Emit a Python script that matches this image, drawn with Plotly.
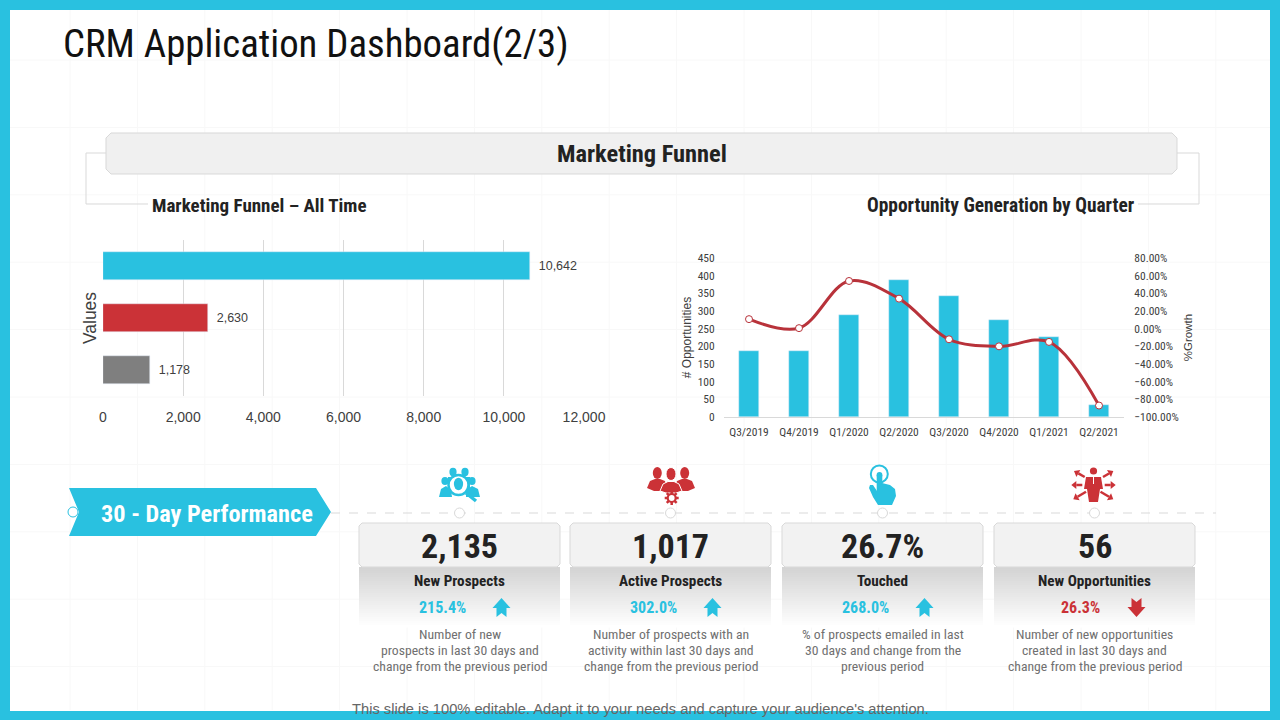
import math
import plotly.graph_objects as go

# left chart
funnel_stages = ["Stage 1", "Stage 2", "Stage 3"]
funnel_values = [10642, 2630, 1178]
funnel_colors = ["#29C1E0", "#CB3237", "#7F7F7F"]

# right chart
quarters = ["Q3/2019", "Q4/2019", "Q1/2020", "Q2/2020", "Q3/2020", "Q4/2020", "Q1/2021", "Q2/2021"]
opportunities = [187, 187, 289, 388, 343, 275, 227, 34]
growth = [10.8, 0.6, 54, 34, -12, -20, -15, -87]

# cards
card_values = ["2,135", "1,017", "26.7%", "56"]
card_names = ["New Prospects", "Active Prospects", "Touched", "New Opportunities"]
card_changes = ["215.4%", "302.0%", "268.0%", "26.3%"]
card_up = [True, True, True, False]
card_desc = [
    ["Number of new", "prospects in last 30 days and", "change from the previous period"],
    ["Number of prospects with an", "activity within last 30 days and", "change from the previous period"],
    ["% of prospects emailed in last", "30 days and change from the", "previous period"],
    ["Number of new opportunities", "created in last 30 days and", "change from the previous period"],
]
card_left = [359, 570, 782, 994]

BLUE = "#29C1E0"
RED = "#CB3237"
NARROW = "Roboto Condensed"
SANS = "Liberation Sans"
W, H = 1280, 720


def fx(x):
    return x / W


def fy(y):
    return 1 - y / H


shapes = []
notes = []


def rect(x0, y0, x1, y1, fill, line=None, width=1, layer="below"):
    shapes.append(dict(type="rect", xref="paper", yref="paper", x0=fx(x0), x1=fx(x1), y0=fy(y0), y1=fy(y1),
                       fillcolor=fill, line=dict(color=line or fill, width=width if line else 0), layer=layer))


def hline(x0, y0, x1, y1, color, width=1, dash="solid", layer="below"):
    shapes.append(dict(type="line", xref="paper", yref="paper", x0=fx(x0), x1=fx(x1), y0=fy(y0), y1=fy(y1),
                       line=dict(color=color, width=width, dash=dash), layer=layer))


def circle(cx, cy, r, fill, line=None, width=1, ry=None):
    ry = ry or r
    shapes.append(dict(type="circle", xref="paper", yref="paper", x0=fx(cx - r), x1=fx(cx + r), y0=fy(cy - ry),
                       y1=fy(cy + ry), fillcolor=fill, line=dict(color=line or fill, width=width if line else 0),
                       layer="below"))


def poly(points, fill, line=None, width=1, closed=True):
    d = "M " + " L ".join(f"{fx(x):.5f},{fy(y):.5f}" for x, y in points)
    if closed:
        d += " Z"
    shapes.append(dict(type="path", xref="paper", yref="paper", path=d, fillcolor=fill if closed else "rgba(0,0,0,0)",
                       line=dict(color=line or fill, width=width if line else 0), layer="below"))


def rounded(x0, y0, x1, y1, r, fill, line):
    pts = [(x0 + r, y0), (x1 - r, y0), (x1, y0 + r), (x1, y1 - r), (x1 - r, y1), (x0 + r, y1), (x0, y1 - r), (x0, y0 + r)]
    poly(pts, fill, line)


def label(x, y, text, size, color="#222222", bold=False, family=SANS):
    if bold:
        text = f"<b>{text}</b>"
    notes.append(dict(xref="paper", yref="paper", x=fx(x), y=fy(y), text=text, showarrow=False, xanchor="center",
                      yanchor="middle", font=dict(size=size, color=color, family=family)))


# background
for k in range(1, 19):
    hline(2.6 + k * 67.4, 10, 2.6 + k * 67.4, 710, "#F8F8F8")
for k in range(0, 10):
    hline(10, 60 + k * 67.4, 1270, 60 + k * 67.4, "#F8F8F8")
for r in [(0, 0, W, 10), (0, 711, W, H), (0, 0, 10, H), (1270, 0, W, H)]:
    rect(*r, BLUE)

label(316, 43, "CRM Application Dashboard(2/3)", 38.8, "#111111", family=NARROW)

# header band
poly([(106, 153), (86, 153), (86, 204), (148, 204)], "#D9D9D9", "#D9D9D9", closed=False)
poly([(1177, 153), (1199, 153), (1199, 204), (1138, 204)], "#D9D9D9", "#D9D9D9", closed=False)
rounded(106, 133, 1177, 174, 5, "#F0F0F0", "#D9D9D9")
label(642, 153, "Marketing Funnel", 24.4, bold=True, family=NARROW)
label(259, 205, "Marketing Funnel – All Time", 19, bold=True, family=NARROW)
label(1001, 205, "Opportunity Generation by Quarter", 19.4, bold=True, family=NARROW)

# 30 day banner
hline(331, 513, 1216, 513, "#D9D9D9", dash="dash")
poly([(69, 488), (316, 488), (331, 512), (316, 536), (69, 536), (79, 512)], BLUE)
circle(73, 512, 5, "#FFFFFF", BLUE)
label(207, 513, "30 - Day Performance", 24.3, "#FFFFFF", bold=True, family=NARROW)

# cards
for i, left in enumerate(card_left):
    cx = left + 100.5
    for s in range(30):
        shade = int(212 + (255 - 212) * s / 29)
        rect(left, 567 + s * 2, left + 201, 569.5 + s * 2, f"rgb({shade},{shade},{shade})")
    rounded(left, 523, left + 201, 567, 3, "#F2F2F2", "#D9D9D9")
    circle(cx, 513, 5, "#FFFFFF", "#D9D9D9")
    label(cx, 546, card_values[i], 34, bold=True, family=NARROW)
    label(cx, 581, card_names[i], 15.2, bold=True, family=NARROW)
    color = BLUE if card_up[i] else RED
    label(cx - 17 if card_up[i] else cx - 14, 607, card_changes[i], 16, color, bold=True, family=NARROW)
    ax = cx + 42
    if card_up[i]:
        poly([(ax, 598), (ax + 9, 608), (ax + 5, 608), (ax + 5, 617), (ax, 613), (ax - 5, 617), (ax - 5, 608),
              (ax - 9, 608)], color)
    else:
        poly([(ax, 617), (ax + 9, 607), (ax + 5, 607), (ax + 5, 598), (ax, 602), (ax - 5, 598), (ax - 5, 607),
              (ax - 9, 607)], color)
    for j, line in enumerate(card_desc[i]):
        label(cx, 634 + j * 16, line, 13.7, "#707070", family=NARROW)

label(640, 709, "This slide is 100% editable. Adapt it to your needs and capture your audience's attention.", 14.7, "#666666")

# icon: prospects with magnifier
circle(453, 472, 3.6, BLUE, ry=4.2)
circle(465, 472, 3.6, BLUE, ry=4.2)
circle(445, 481, 3.6, BLUE, ry=4)
circle(472, 481, 3.6, BLUE, ry=4)
poly([(448, 477), (470, 477), (470, 490), (448, 490)], BLUE)
poly([(439, 497), (441, 489), (446, 486), (451, 490), (452, 497)], BLUE)
poly([(480, 497), (478, 489), (472, 486), (466, 490), (466, 497)], BLUE)
circle(458.5, 485, 10, "#FFFFFF", BLUE, 2.5)
circle(458.5, 484, 4.6, BLUE, ry=6.2)
hline(466, 493, 476, 501, BLUE, 3.5)

# icon: team with gear
circle(657.3, 473, 4.5, RED, ry=6)
circle(684.7, 473, 4.5, RED, ry=6)
poly([(647, 488), (650, 481), (655, 479), (660, 479), (665, 481), (667, 488), (660, 491), (654, 491)], RED)
poly([(695, 488), (692, 481), (687, 479), (682, 479), (677, 481), (675, 488), (682, 491), (688, 491)], RED)
circle(671, 474, 5, RED, "#FFFFFF", 1, ry=6.5)
poly([(660, 491), (663, 484), (668, 481.5), (674, 481.5), (679, 484), (682, 491), (676, 493), (666, 493)], RED, "#FFFFFF")
for g in range(8):
    a = g * math.pi / 4
    hline(671.7 + 4 * math.cos(a), 498 + 4 * math.sin(a), 671.7 + 7 * math.cos(a), 498 + 7 * math.sin(a), RED, 2.5)
circle(671.7, 498, 4, "#FFFFFF", RED, 2.2)

# icon: touch
circle(879.3, 474, 8.5, "#FFFFFF", BLUE, 2)
circle(879.5, 475, 2.9, BLUE)
rect(876.7, 475, 882.3, 492, BLUE)
poly([(882, 483), (890, 485), (895, 489), (896, 496), (892, 505), (878, 505), (873, 497), (869, 488), (870, 485),
      (873, 485), (877, 491)], BLUE)

# icon: man with arrows
circle(1093.5, 471, 3.6, RED)
poly([(1086, 477), (1101, 477), (1103, 489), (1100, 489), (1098, 502), (1089, 502), (1087, 489), (1084, 489)], RED)
hline(1093.5, 477, 1093.5, 484, "#FFFFFF", 1)
for x0, y0, x1, y1 in [(1084.7, 477, 1074, 471), (1103, 477, 1113.3, 471), (1082.3, 485, 1071.3, 485),
                       (1104.7, 485, 1115.7, 485), (1086, 491.7, 1073.3, 499.3), (1100.5, 491.7, 1113.3, 499.3)]:
    d = math.hypot(x1 - x0, y1 - y0)
    ux, uy = (x1 - x0) / d, (y1 - y0) / d
    bx, by = x1 - 5 * ux, y1 - 5 * uy
    hline(x0, y0, bx, by, RED, 2.5)
    poly([(x1, y1), (bx - 4 * uy, by + 4 * ux), (bx + 4 * uy, by - 4 * ux)], RED)

fig = go.Figure()

fig.add_trace(go.Bar(
    y=funnel_stages, x=funnel_values, orientation="h", width=0.54,
    marker=dict(color=funnel_colors), text=funnel_values, texttemplate="\u00a0\u2009%{x:,}",
    textposition="outside", textfont=dict(size=12.5, color="#404040", family=SANS),
    cliponaxis=False, showlegend=False, xaxis="x", yaxis="y",
))

fig.add_trace(go.Bar(
    x=quarters, y=opportunities, width=0.4, marker=dict(color=BLUE),
    showlegend=False, xaxis="x2", yaxis="y2",
))

fig.add_trace(go.Scatter(
    x=quarters, y=growth, mode="lines+markers",
    line=dict(color="#B8323A", width=3, shape="spline", smoothing=1),
    marker=dict(size=7, color="#FFFFFF", line=dict(color="#B8323A", width=1)),
    showlegend=False, xaxis="x2", yaxis="y3",
))

tick_font = dict(size=11.5, color="#404040", family=NARROW)

fig.update_layout(
    width=W, height=H, margin=dict(l=0, r=0, t=0, b=0),
    paper_bgcolor="#FFFFFF", plot_bgcolor="rgba(0,0,0,0)",
    font=dict(family=SANS, color="#404040"),
    shapes=shapes, annotations=notes, bargap=0,
    xaxis=dict(domain=[fx(103), fx(584)], anchor="y", range=[0, 12000], dtick=2000, tickformat=",", automargin=False,
               showgrid=True, gridcolor="#D9D9D9", zeroline=False, ticks="outside",
               ticklen=8, tickcolor="rgba(0,0,0,0)", tickfont=dict(size=14, color="#404040"), showline=False),
    yaxis=dict(domain=[fy(396), fy(240)], anchor="x", autorange="reversed", showticklabels=False, showgrid=False,
               automargin=False, zeroline=False,
               title=dict(text="Values", font=dict(size=17.5, color="#404040"), standoff=0)),
    xaxis2=dict(domain=[fx(724), fx(1124)], anchor="y2", showline=True, linecolor="#D9D9D9", showgrid=False,
                automargin=False, tickfont=tick_font, ticks="outside", ticklen=4,
                tickcolor="rgba(0,0,0,0)", tickangle=0),
    yaxis2=dict(domain=[fy(417), fy(258)], anchor="x2", range=[0, 450], dtick=50, showgrid=False, zeroline=False,
                automargin=False, tickfont=tick_font, ticks="outside", ticklen=6,
                tickcolor="rgba(0,0,0,0)",
                title=dict(text="# Opportunities", font=dict(size=12, color="#404040"), standoff=3)),
    yaxis3=dict(domain=[fy(417), fy(258)], anchor="x2", overlaying="y2", side="right", range=[-100, 80], dtick=20,
                automargin=False, tickformat=".2f", ticksuffix="%", showgrid=False, zeroline=False,
                tickfont=tick_font, ticks="outside", ticklen=7, tickcolor="rgba(0,0,0,0)",
                title=dict(text="%Growth", font=dict(size=11.5, color="#404040"), standoff=6)),
)

fig.write_html("out.html", config=dict(displayModeBar=False),
               post_script="document.body.style.margin='0';document.documentElement.style.overflow='hidden';")
